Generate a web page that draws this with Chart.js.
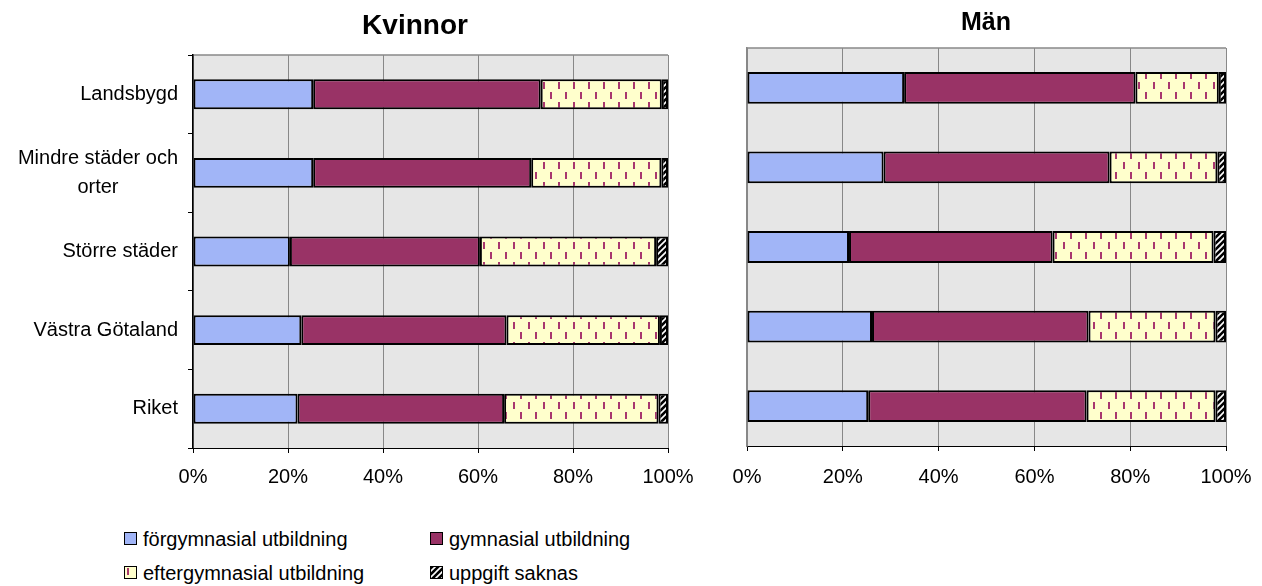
<!DOCTYPE html>
<html><head><meta charset="utf-8">
<script src="https://cdn.jsdelivr.net/npm/chart.js@4.4.1/dist/chart.umd.min.js"></script>
<style>
html,body{margin:0;padding:0;background:#fff;width:1262px;height:586px;overflow:hidden;font-family:'Liberation Sans',Arial,sans-serif;color:#000;}
.wrap{position:absolute;top:0;}
.title{position:absolute;font-weight:bold;line-height:1;white-space:nowrap;transform:translateX(-50%);}
.legItem{position:absolute;height:24px;line-height:24px;font-size:20px;white-space:nowrap;}
.legItem canvas{position:absolute;left:0;top:5px;}
.legItem span{position:absolute;left:19px;top:0;}
</style></head>
<body>
<div class="wrap" style="left:0;width:700px;height:500px"><canvas id="cK" width="700" height="500"></canvas></div>
<div class="wrap" style="left:700px;width:562px;height:500px"><canvas id="cM" width="562" height="500"></canvas></div>
<div class="title" id="tK" style="left:415px;top:11px;font-size:28px"></div>
<div class="title" id="tM" style="left:986px;top:9px;font-size:25px"></div>
<div id="legend"></div>
<script>
// ---- data ----
const titles = ['Kvinnor', 'Män'];
const categories = ['Landsbygd', 'Mindre städer och orter', 'Större städer', 'Västra Götaland', 'Riket'];
const categoryLines = [['Landsbygd'], ['Mindre städer och', 'orter'], ['Större städer'], ['Västra Götaland'], ['Riket']];
const seriesNames = ['förgymnasial utbildning', 'gymnasial utbildning', 'eftergymnasial utbildning', 'uppgift saknas'];
const xTickValues = [0, 20, 40, 60, 80, 100];
const kvinnorForgymnasial = [25.3, 25.3, 20.4, 22.8, 22.0];
const kvinnorGymnasial    = [47.9, 45.9, 40.0, 43.2, 43.5];
const kvinnorEftergymn    = [25.5, 27.4, 37.1, 32.3, 32.5];
const kvinnorSaknas       = [1.3, 1.4, 2.5, 1.7, 2.0];
const manForgymnasial = [32.8, 28.5, 21.3, 26.1, 25.3];
const manGymnasial    = [48.3, 47.2, 42.5, 45.2, 45.6];
const manEftergymn    = [17.4, 22.5, 33.6, 26.5, 26.9];
const manSaknas       = [1.5, 1.8, 2.6, 2.2, 2.2];

// ---- styles ----
const FONT = "'Liberation Sans', Arial, sans-serif";
const colBlue = '#a1b5f7';
const colPlum = '#993366';

function makeDashPattern(ctx) {
  const c = document.createElement('canvas'); c.width = 15; c.height = 20;
  const g = c.getContext('2d');
  g.fillStyle = '#ffffcc'; g.fillRect(0, 0, 15, 20);
  g.fillStyle = '#a8386e';
  g.fillRect(3, 2, 2, 7);
  g.fillRect(10, 12, 2, 7);
  return ctx.createPattern(c, 'repeat');
}
function makeHatchPattern(ctx) {
  const c = document.createElement('canvas'); c.width = 6; c.height = 6;
  const g = c.getContext('2d');
  g.fillStyle = '#000'; g.fillRect(0, 0, 6, 6);
  g.strokeStyle = '#fff'; g.lineWidth = 1.6;
  g.beginPath();
  g.moveTo(-1, 7); g.lineTo(7, -1);
  g.moveTo(-1, 1); g.lineTo(1, -1);
  g.moveTo(5, 7); g.lineTo(7, 5);
  g.stroke();
  return ctx.createPattern(c, 'repeat');
}

const plotBg = {
  id: 'plotBg',
  beforeDraw(chart) {
    const {ctx, chartArea: a} = chart;
    ctx.save();
    ctx.fillStyle = '#e6e6e6';
    ctx.fillRect(a.left, a.top, a.right - a.left, a.bottom - a.top);
    ctx.strokeStyle = '#888'; ctx.lineWidth = 1.5;
    ctx.beginPath(); ctx.moveTo(a.left, a.top); ctx.lineTo(a.right, a.top); ctx.stroke();
    ctx.restore();
  }
};

const yLabels = {
  id: 'yLabels',
  afterDraw(chart, args, opts) {
    if (!opts || !opts.lines) return;
    const ctx = chart.ctx, y = chart.scales.y;
    ctx.save();
    ctx.font = opts.font; ctx.fillStyle = '#000'; ctx.textBaseline = 'middle';
    opts.lines.forEach((lines, i) => {
      const cy = y.getPixelForValue(i);
      const widest = Math.max(...lines.map(l => ctx.measureText(l).width));
      lines.forEach((l, j) => {
        const yy = cy + (j - (lines.length - 1) / 2) * opts.lineHeight;
        if (lines.length > 1) { ctx.textAlign = 'center'; ctx.fillText(l, opts.right - widest / 2, yy); }
        else { ctx.textAlign = 'right'; ctx.fillText(l, opts.right, yy); }
      });
    });
    ctx.restore();
  }
};

function buildChart(id, vals, cfg) {
  const ctx = document.getElementById(id).getContext('2d');
  const fills = [colBlue, colPlum, makeDashPattern(ctx), makeHatchPattern(ctx)];
  const datasets = vals.map((v, i) => ({
    label: seriesNames[i], data: v, backgroundColor: fills[i],
    borderColor: '#000', borderWidth: 2, borderSkipped: false,
    barPercentage: cfg.barPct, categoryPercentage: 1
  }));
  return new Chart(ctx, {
    type: 'bar',
    data: { labels: categories, datasets },
    plugins: cfg.showY ? [plotBg, yLabels] : [plotBg],
    options: {
      indexAxis: 'y', responsive: false, animation: false,
      layout: { padding: { top: cfg.top, right: cfg.right, left: 0, bottom: 0 } },
      plugins: {
        legend: { display: false }, tooltip: { enabled: false }, title: { display: false },
        yLabels: cfg.showY ? { lines: categoryLines, font: '20px ' + FONT, lineHeight: 29, right: 178 } : {}
      },
      scales: {
        x: {
          stacked: true, min: 0, max: 100,
          afterBuildTicks: s => { s.ticks = xTickValues.map(v => ({ value: v })); },
          afterFit: s => { s.height = cfg.xH; s.paddingLeft = 0; s.paddingRight = 0; },
          ticks: { callback: v => v + '%', color: '#000', font: { family: FONT, size: 20 }, padding: cfg.tickPad, maxRotation: 0 },
          grid: { color: '#888', lineWidth: 1, drawTicks: true, tickLength: 5, tickColor: '#000' },
          border: { display: true, color: '#000', width: 1 }
        },
        y: {
          stacked: true,
          afterFit: s => { s.width = cfg.yW; s.paddingTop = 0; s.paddingBottom = 0; },
          ticks: { display: false },
          grid: { display: cfg.showY, drawOnChartArea: false, drawTicks: true, tickLength: 5, tickColor: '#000', offset: true },
          border: { display: true, color: cfg.yBorder, width: 1.5 }
        }
      }
    }
  });
}

buildChart('cK', [kvinnorForgymnasial, kvinnorGymnasial, kvinnorEftergymn, kvinnorSaknas],
  { barPct: 0.38, top: 55, right: 32, yW: 193, xH: 52, tickPad: 12, showY: true, yBorder: '#000' });
buildChart('cM', [manForgymnasial, manGymnasial, manEftergymn, manSaknas],
  { barPct: 0.40, top: 48, right: 36, yW: 47, xH: 54, tickPad: 14, showY: false, yBorder: '#888' });

document.getElementById('tK').textContent = titles[0];
document.getElementById('tM').textContent = titles[1];

// legend
const legPos = [[124, 527], [430, 527], [124, 561], [430, 561]];
const leg = document.getElementById('legend');
seriesNames.forEach((name, i) => {
  const d = document.createElement('div'); d.className = 'legItem';
  d.style.left = legPos[i][0] + 'px'; d.style.top = legPos[i][1] + 'px';
  const c = document.createElement('canvas'); c.width = 13; c.height = 13;
  const g = c.getContext('2d');
  const fills = [colBlue, colPlum, makeDashPattern(g), makeHatchPattern(g)];
  g.fillStyle = fills[i]; g.fillRect(0, 0, 13, 13);
  g.strokeStyle = '#000'; g.lineWidth = 1; g.strokeRect(0.5, 0.5, 12, 12);
  const s = document.createElement('span'); s.textContent = name;
  d.appendChild(c); d.appendChild(s); leg.appendChild(d);
});
</script>
</body></html>
